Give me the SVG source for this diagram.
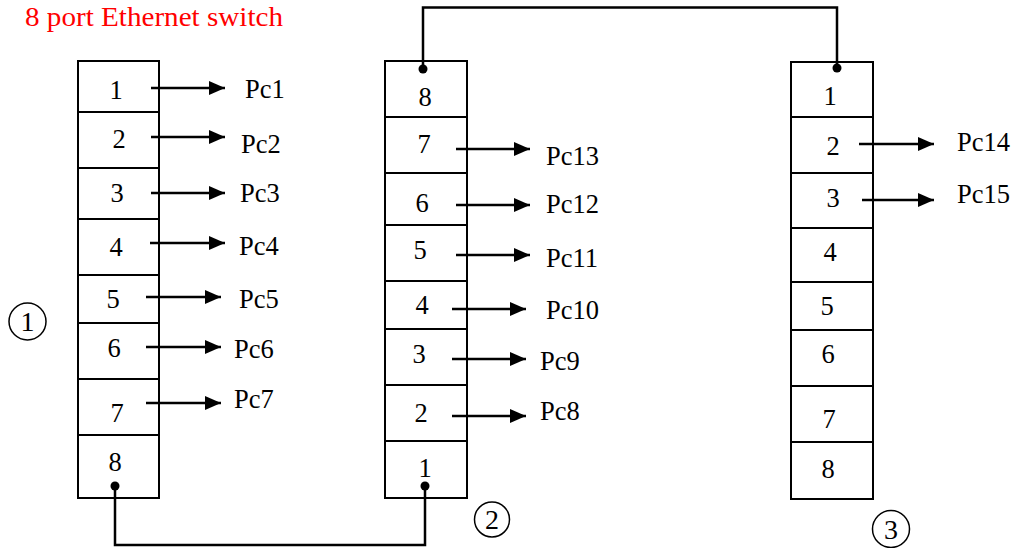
<svg xmlns="http://www.w3.org/2000/svg" width="1011" height="548" viewBox="0 0 1011 548">
<style>
  text { font-family: "Liberation Serif", "Times New Roman", serif; font-size: 26.5px; fill: #000; }
  .num { text-anchor: middle; }
  .title { fill: #ff0000; font-size: 28px; }
  .circ { text-anchor: middle; font-size: 28px; }
  .box { fill: #fff; stroke: #000; stroke-width: 2; }
  .div { stroke: #000; stroke-width: 2; }
  .wire { fill: none; stroke: #000; stroke-width: 2.5; }
  .arrow { fill: none; stroke: #000; stroke-width: 2.5; marker-end: url(#ah); }
  .dot { fill: #000; }
  .ring { fill: none; stroke: #000; stroke-width: 1.5; }
</style>
<defs>
  <marker id="ah" viewBox="0 0 16 14" refX="16" refY="7" markerWidth="16" markerHeight="14" markerUnits="userSpaceOnUse" orient="auto">
    <path d="M0,0 L16,7 L0,14 Z" fill="#000"/>
  </marker>
</defs>
<rect width="1011" height="548" fill="#fff"/>
<text class="title" x="25" y="26" textLength="258" lengthAdjust="spacingAndGlyphs">8 port Ethernet switch</text>

<g id="switch1">
  <rect class="box" x="78" y="61" width="81" height="437"/>
  <line class="div" x1="78" y1="112" x2="159" y2="112"/>
  <line class="div" x1="78" y1="168" x2="159" y2="168"/>
  <line class="div" x1="78" y1="219" x2="159" y2="219"/>
  <line class="div" x1="78" y1="275" x2="159" y2="275"/>
  <line class="div" x1="78" y1="323" x2="159" y2="323"/>
  <line class="div" x1="78" y1="379" x2="159" y2="379"/>
  <line class="div" x1="78" y1="435" x2="159" y2="435"/>
  <text class="num" x="116" y="99">1</text>
  <text class="num" x="119" y="148">2</text>
  <text class="num" x="117" y="202">3</text>
  <text class="num" x="116" y="256">4</text>
  <text class="num" x="113" y="308">5</text>
  <text class="num" x="114" y="357">6</text>
  <text class="num" x="117" y="422">7</text>
  <text class="num" x="115" y="471">8</text>
</g>
<g id="label1">
  <circle class="ring" cx="27.5" cy="321.5" r="18.5"/>
  <text class="circ" x="27.5" y="331">1</text>
</g>

<g id="switch2">
  <rect class="box" x="385" y="61" width="82" height="437"/>
  <line class="div" x1="385" y1="117" x2="467" y2="117"/>
  <line class="div" x1="385" y1="173" x2="467" y2="173"/>
  <line class="div" x1="385" y1="225" x2="467" y2="225"/>
  <line class="div" x1="385" y1="281" x2="467" y2="281"/>
  <line class="div" x1="385" y1="329" x2="467" y2="329"/>
  <line class="div" x1="385" y1="385" x2="467" y2="385"/>
  <line class="div" x1="385" y1="441" x2="467" y2="441"/>
  <text class="num" x="425" y="106">8</text>
  <text class="num" x="424" y="153">7</text>
  <text class="num" x="422" y="212">6</text>
  <text class="num" x="420" y="259">5</text>
  <text class="num" x="422" y="314">4</text>
  <text class="num" x="419" y="363">3</text>
  <text class="num" x="421" y="422">2</text>
  <text class="num" x="425" y="477">1</text>
</g>
<g id="label2">
  <circle class="ring" cx="492" cy="519.5" r="17.5"/>
  <text class="circ" x="492" y="529">2</text>
</g>

<g id="switch3">
  <rect class="box" x="791" y="62" width="82" height="437"/>
  <line class="div" x1="791" y1="117" x2="873" y2="117"/>
  <line class="div" x1="791" y1="173" x2="873" y2="173"/>
  <line class="div" x1="791" y1="228" x2="873" y2="228"/>
  <line class="div" x1="791" y1="282" x2="873" y2="282"/>
  <line class="div" x1="791" y1="330" x2="873" y2="330"/>
  <line class="div" x1="791" y1="386" x2="873" y2="386"/>
  <line class="div" x1="791" y1="442" x2="873" y2="442"/>
  <text class="num" x="830" y="105">1</text>
  <text class="num" x="833" y="155">2</text>
  <text class="num" x="833" y="207">3</text>
  <text class="num" x="830" y="261">4</text>
  <text class="num" x="827" y="315">5</text>
  <text class="num" x="828" y="363">6</text>
  <text class="num" x="829" y="428">7</text>
  <text class="num" x="828" y="478">8</text>
</g>
<g id="label3">
  <circle class="ring" cx="891" cy="529" r="18.5"/>
  <text class="circ" x="891" y="538.5">3</text>
</g>

<g id="pcs">
  <text x="245" y="98">Pc1</text>
  <text x="241" y="153">Pc2</text>
  <text x="240" y="202">Pc3</text>
  <text x="239" y="255">Pc4</text>
  <text x="239" y="308">Pc5</text>
  <text x="234" y="358">Pc6</text>
  <text x="234" y="408">Pc7</text>
  <text x="546" y="165">Pc13</text>
  <text x="546" y="213">Pc12</text>
  <text x="546" y="267">Pc11</text>
  <text x="546" y="319">Pc10</text>
  <text x="540" y="370">Pc9</text>
  <text x="540" y="420">Pc8</text>
  <text x="957" y="151">Pc14</text>
  <text x="957" y="203">Pc15</text>
</g>

<g id="connectors">
  <line class="arrow" x1="151" y1="88" x2="225" y2="88"/>
  <line class="arrow" x1="151" y1="137" x2="225" y2="137"/>
  <line class="arrow" x1="151" y1="193" x2="225" y2="193"/>
  <line class="arrow" x1="150" y1="243" x2="225" y2="243"/>
  <line class="arrow" x1="146" y1="297" x2="221" y2="297"/>
  <line class="arrow" x1="146" y1="347" x2="221" y2="347"/>
  <line class="arrow" x1="146" y1="403" x2="221" y2="403"/>
  <line class="arrow" x1="456" y1="149" x2="530" y2="149"/>
  <line class="arrow" x1="456" y1="205" x2="530" y2="205"/>
  <line class="arrow" x1="456" y1="255" x2="530" y2="255"/>
  <line class="arrow" x1="452" y1="309" x2="526" y2="309"/>
  <line class="arrow" x1="452" y1="359" x2="526" y2="359"/>
  <line class="arrow" x1="452" y1="416" x2="526" y2="416"/>
  <line class="arrow" x1="859" y1="144" x2="934" y2="144"/>
  <line class="arrow" x1="862" y1="200" x2="934" y2="200"/>
  <polyline class="wire" points="115,486 115,545 425,545 425,486"/>
  <polyline class="wire" points="423,69 423,7.5 837,7.5 837,68"/>
  <circle class="dot" cx="115" cy="486" r="4.5"/>
  <circle class="dot" cx="425" cy="486" r="4.5"/>
  <circle class="dot" cx="423" cy="69" r="4.5"/>
  <circle class="dot" cx="837" cy="68" r="4.5"/>
</g>
</svg>
